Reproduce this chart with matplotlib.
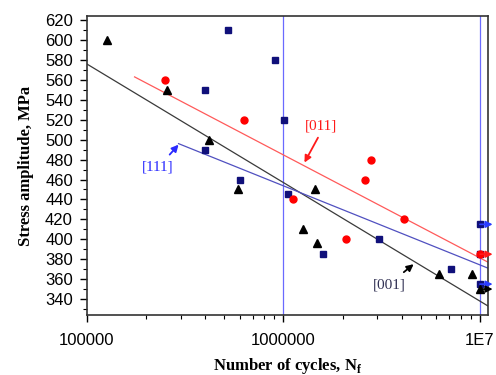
import matplotlib
matplotlib.use("Agg")
import matplotlib.pyplot as plt
from matplotlib.ticker import MultipleLocator, FixedLocator, FixedFormatter, LogLocator, NullFormatter

# [001] orientation - black triangles
n_001 = [1.26e5, 2.55e5, 4.2e5, 5.9e5, 1.26e6, 1.45e6, 1.48e6, 6.2e6, 9.1e6, 1e7]
s_001 = [600, 550, 500, 450, 410, 450, 396, 365, 365, 350]
# [011] orientation - red circles
n_011 = [2.5e5, 6.3e5, 1.12e6, 2.09e6, 2.6e6, 2.8e6, 4.1e6, 1e7]
s_011 = [560, 520, 440, 400, 460, 480, 420, 385]
# [111] orientation - navy squares
n_111 = [4.0e5, 4.0e5, 5.2e5, 6.0e5, 9.1e5, 1.01e6, 1.05e6, 1.59e6, 3.07e6, 7.1e6, 1e7, 1e7, 1e7]
s_111 = [550, 490, 610, 460, 580, 520, 445, 385, 400, 370, 415, 385, 355]

# run-outs at 1E7 cycles
runout_s = [415, 385, 355, 350]
runout_c = ['#2a3cff', '#ff1a1a', '#2a3cff', 'black']

# fitted lines (end points)
fit_001_n = [1e5, 1.1e7]
fit_001_s = [576, 333]
fit_011_n = [1.75e5, 1.1e7]
fit_011_s = [563, 377]
fit_111_n = [2.93e5, 1.1e7]
fit_111_s = [496, 371]

# labels: (text, text pos, arrow tail, arrow tip, colour)
labels = [
    ('[111]', (2.3e5, 473), (2.64e5, 485), (2.93e5, 495), '#2a2aff'),
    ('[011]', (1.55e6, 514), (1.5e6, 502), (1.28e6, 477), '#ff1a1a'),
    ('[001]', (3.45e6, 354), (4.1e6, 367), (4.6e6, 375), 'black'),
]

fig = plt.figure(figsize=(4.96, 3.75), dpi=100)
ax = fig.add_axes([0.175, 0.16, 0.809, 0.797])

ax.set_xscale('log')
ax.set_xlim(1e5, 1.1e7)
ax.set_ylim(324, 624)

for xv in [1e6, 1e7]:
    ax.axvline(xv, color='#6a6aff', lw=0.9, zorder=1)

ax.plot(fit_001_n, fit_001_s, color='#3a3a3a', lw=0.9, zorder=2)
ax.plot(fit_011_n, fit_011_s, color='#ff5a5a', lw=0.9, zorder=2)
ax.plot(fit_111_n, fit_111_s, color='#5050c0', lw=0.9, zorder=2)

ax.plot(n_111, s_111, 's', color='#10107a', ms=4.5, ls='none', zorder=3)
ax.plot(n_011, s_011, 'o', color='#ff0000', ms=5, ls='none', zorder=3)
ax.plot(n_001, s_001, '^', color='black', ms=5.5, ls='none', zorder=3)

for s, c in zip(runout_s, runout_c):
    ax.annotate('', xy=(1.16e7, s), xytext=(1.0e7, s), annotation_clip=False,
                arrowprops=dict(arrowstyle='-|>', color=c, lw=1.2, mutation_scale=10,
                                shrinkA=0, shrinkB=0), zorder=4)

for txt, tpos, tail, tip, c in labels:
    ax.text(tpos[0], tpos[1], txt, color='#333355' if c == 'black' else c,
            ha='center', va='center', family='Liberation Serif', fontsize=11)
    ax.annotate('', xy=tip, xytext=tail,
                arrowprops=dict(arrowstyle='-|>', color=c, lw=1.3, mutation_scale=10,
                                shrinkA=0, shrinkB=0))

ax.set_yticks(range(340, 621, 20))
ax.yaxis.set_minor_locator(MultipleLocator(10))
ax.xaxis.set_major_locator(FixedLocator([1e5, 1e6, 1e7]))
ax.xaxis.set_major_formatter(FixedFormatter(['100000', '1000000', '1E7']))
ax.xaxis.set_minor_locator(LogLocator(base=10, subs=range(2, 10)))
ax.xaxis.set_minor_formatter(NullFormatter())

ax.tick_params(axis='both', which='both', direction='out', top=False, right=False)
ax.tick_params(axis='both', which='major', length=5, width=1, labelsize=12)
ax.tick_params(axis='both', which='minor', length=3, width=0.8)
ax.tick_params(axis='x', which='major', pad=8)
ax.tick_params(axis='y', which='major', pad=5)
for lab in ax.get_xticklabels() + ax.get_yticklabels():
    lab.set_family('Liberation Sans')

for sp in ax.spines.values():
    sp.set_color('#333333')
    sp.set_linewidth(1.2)

ax.set_ylabel('Stress amplitude, MPa', family='Liberation Serif', fontweight='bold',
              fontsize=12, labelpad=8)
ax.set_xlabel('Number of cycles, N$_\\mathregular{f}$', family='Liberation Serif',
              fontweight='bold', fontsize=12, labelpad=6)

fig.savefig('out.png', dpi=100)
